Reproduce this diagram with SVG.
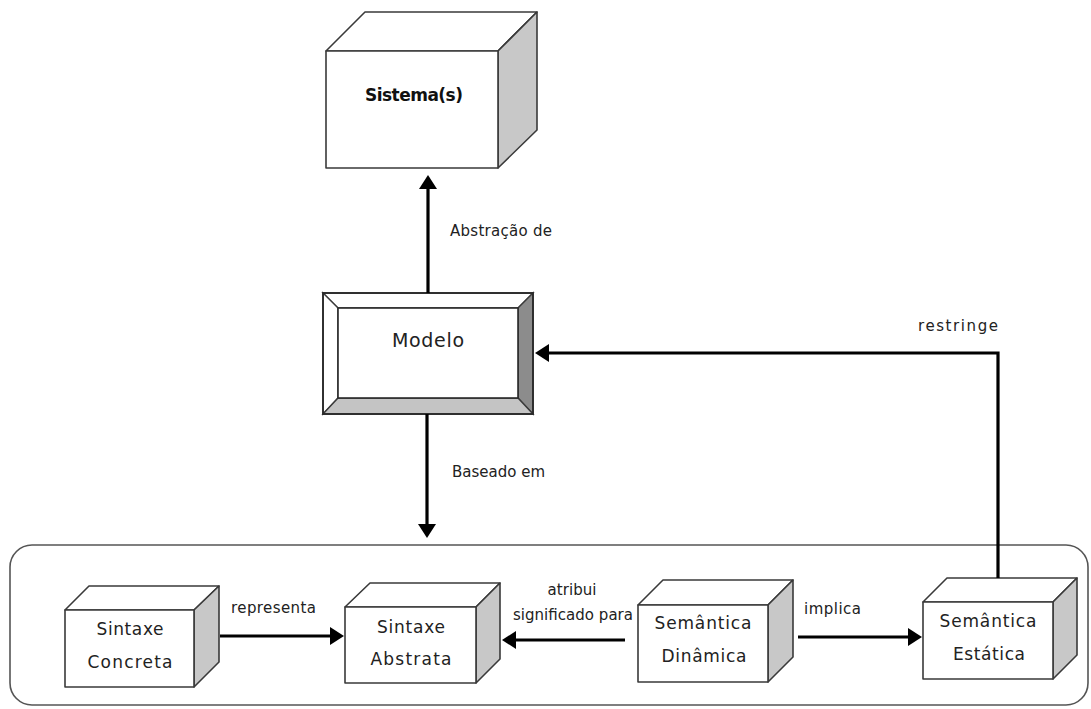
<svg xmlns="http://www.w3.org/2000/svg" width="1091" height="709" viewBox="0 0 1091 709">
  <style>
    .face { fill: #ffffff; stroke: #3a3a3a; stroke-width: 1.6; stroke-linejoin: round; }
    .side { fill: #c8c8c8; stroke: #3a3a3a; stroke-width: 1.6; stroke-linejoin: round; }
    .node-text { font-family: "DejaVu Sans", Verdana, sans-serif; font-size: 17px; fill: #222; text-anchor: middle; }
    .label { font-family: "DejaVu Sans", Verdana, sans-serif; font-size: 15px; fill: #222; }
    .conn { fill: none; stroke: #000; stroke-width: 3.2; stroke-linejoin: miter; }
    .frame { fill: #ffffff; stroke: #555; stroke-width: 1.6; }
  </style>
  <defs>
    <marker id="arrow" markerUnits="userSpaceOnUse" markerWidth="16" markerHeight="20" refX="4" refY="9" orient="auto">
      <path d="M0,0 L14,9 L0,18 z" fill="#000"/>
    </marker>
  </defs>

  <rect width="1091" height="709" fill="#ffffff"/>

  <!-- language container -->
  <rect id="container" class="frame" x="10" y="545" width="1078" height="160" rx="22" ry="22"/>

  <!-- Sistema(s) cube -->
  <g id="sistemas">
    <polygon class="face" points="326,51 365,12 537,12 498,51"/>
    <polygon class="side" points="498,51 537,12 537,130 498,168"/>
    <rect class="face" x="326" y="51" width="172" height="117"/>
    <text x="414" y="101" font-family="'DejaVu Sans', Verdana, sans-serif" font-size="17" font-weight="bold" fill="#111" text-anchor="middle" textLength="98">Sistema(s)</text>
  </g>

  <!-- Modelo bevelled box -->
  <g id="modelo">
    <polygon points="323,293 533,293 518,308 338,308" fill="#fff" stroke="#3a3a3a" stroke-width="1.4"/>
    <polygon points="323,293 338,308 338,398 323,414" fill="#fff" stroke="#3a3a3a" stroke-width="1.4"/>
    <polygon points="533,293 533,414 518,398 518,308" fill="#8c8c8c" stroke="#3a3a3a" stroke-width="1.4"/>
    <polygon points="323,414 533,414 518,398 338,398" fill="#c4c4c4" stroke="#3a3a3a" stroke-width="1.4"/>
    <rect x="323" y="293" width="210" height="121" fill="none" stroke="#2a2a2a" stroke-width="1.8"/>
    <rect x="338" y="308" width="180" height="90" fill="#fff" stroke="#2a2a2a" stroke-width="1.6"/>
    <text x="428" y="347" font-family="'DejaVu Sans', Verdana, sans-serif" font-size="19" fill="#222" text-anchor="middle" textLength="72">Modelo</text>
  </g>

  <!-- Sintaxe Concreta -->
  <g id="sintaxe-concreta">
    <polygon class="face" points="65,610 89,586 219,586 194,610"/>
    <polygon class="side" points="194,610 219,586 219,662 194,687"/>
    <rect class="face" x="65" y="610" width="129" height="77"/>
    <text class="node-text" x="130" y="635" textLength="67">Sintaxe</text>
    <text class="node-text" x="130" y="668" textLength="85">Concreta</text>
  </g>

  <!-- Sintaxe Abstrata -->
  <g id="sintaxe-abstrata">
    <polygon class="face" points="345,607 370,583 500,583 476,607"/>
    <polygon class="side" points="476,607 500,583 500,659 476,683"/>
    <rect class="face" x="345" y="607" width="131" height="76"/>
    <text class="node-text" x="411" y="633" textLength="68">Sintaxe</text>
    <text class="node-text" x="411" y="665" textLength="81">Abstrata</text>
  </g>

  <!-- Semântica Dinâmica -->
  <g id="semantica-dinamica">
    <polygon class="face" points="638,605 663,580 793,580 768,605"/>
    <polygon class="side" points="768,605 793,580 793,657 768,682"/>
    <rect class="face" x="638" y="605" width="130" height="77"/>
    <text class="node-text" x="703" y="629" textLength="97">Semântica</text>
    <text class="node-text" x="704" y="662" textLength="85">Dinâmica</text>
  </g>

  <!-- Semântica Estática -->
  <g id="semantica-estatica">
    <polygon class="face" points="923,602 947,578 1077,578 1053,602"/>
    <polygon class="side" points="1053,602 1077,578 1077,655 1053,679"/>
    <rect class="face" x="923" y="602" width="130" height="77"/>
    <text class="node-text" x="988" y="627" textLength="97">Semântica</text>
    <text class="node-text" x="989" y="660" textLength="72">Estática</text>
  </g>

  <!-- connectors -->
  <g id="connectors">
    <line class="conn" x1="428" y1="293" x2="428" y2="185" marker-end="url(#arrow)"/>
    <line class="conn" x1="427" y1="414" x2="427" y2="528" marker-end="url(#arrow)"/>
    <polyline class="conn" points="998,578 998,353 545,353" marker-end="url(#arrow)"/>
    <line class="conn" x1="220" y1="636" x2="334" y2="636" marker-end="url(#arrow)"/>
    <line class="conn" x1="625" y1="640" x2="512" y2="640" marker-end="url(#arrow)"/>
    <line class="conn" x1="798" y1="637" x2="912" y2="637" marker-end="url(#arrow)"/>
  </g>

  <!-- connector labels -->
  <g id="labels">
    <text class="label" x="450" y="236" textLength="102">Abstração de</text>
    <text class="label" x="452" y="477" textLength="93">Baseado em</text>
    <text class="label" x="918" y="331" textLength="80">restringe</text>
    <text class="label" x="231" y="613" textLength="85">representa</text>
    <text class="label" x="572" y="595" text-anchor="middle" textLength="49">atribui</text>
    <text class="label" x="513" y="620" textLength="120">significado para</text>
    <text class="label" x="804" y="614" textLength="57">implica</text>
  </g>
</svg>
